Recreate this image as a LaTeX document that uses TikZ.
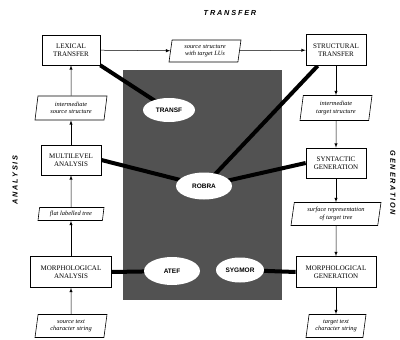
\documentclass[tikz,border=0pt]{standalone}
\usepackage{fontspec}
\setmainfont{Liberation Serif}
\newfontfamily\hvfont{Liberation Sans}
\usetikzlibrary{shapes.geometric}
\pgfdeclarelayer{block}
\pgfdeclarelayer{links}
\pgfsetlayers{block,links,main}
\tikzset{
  procbox/.style={draw, line width=0.7pt, fill=white, align=center, inner sep=1pt,
    font=\fontsize{7}{8}\selectfont},
  databox/.style={draw, line width=0.6pt, fill=white, align=center, inner sep=0.5pt,
    trapezium, trapezium left angle=77, trapezium right angle=103,
    trapezium stretches body=true,
    font=\itshape\fontsize{6.4}{7.4}\selectfont},
  tool/.style={ellipse, fill=white, draw=none, inner sep=0pt,
    font=\hvfont\bfseries\fontsize{6.5}{7}\selectfont},
  flow/.style={-latex, line width=0.5pt},
  link/.style={line width=4pt},
  side/.style={font=\hvfont\bfseries\itshape\fontsize{7.3}{8}\selectfont\addfontfeature{LetterSpace=25}}
}
\begin{document}
\begin{tikzpicture}[x=1pt,y=-1pt]
\useasboundingbox (0,0) rectangle (400,340);

% stages: analysis column
\node[procbox, minimum width=58pt, minimum height=30pt] (lex) at (71,50) {LEXICAL\\TRANSFER};
\node[databox, minimum width=72pt, minimum height=24pt] (isrc) at (71,108) {intermediate\\source structure};
\node[procbox, minimum width=60pt, minimum height=30pt] (multi) at (71,160) {MULTILEVEL\\ANALYSIS};
\node[databox, minimum width=66pt, minimum height=13pt] (flat) at (71,214) {flat labelled tree};
\node[procbox, minimum width=81pt, minimum height=31pt] (manal) at (71,272) {MORPHOLOGICAL\\ANALYSIS};
\node[databox, minimum width=72pt, minimum height=23pt] (stxt) at (71,326) {source text\\character string};
% transfer
\node[databox, minimum width=72pt, minimum height=22pt] (src) at (205,51) {source structure\\with target LUs};
% stages: generation column
\node[procbox, minimum width=60pt, minimum height=31pt] (str) at (336,50) {STRUCTURAL\\TRANSFER};
\node[databox, minimum width=72pt, minimum height=25pt] (itgt) at (336,108) {intermediate\\target structure};
\node[procbox, minimum width=60pt, minimum height=30pt] (synt) at (336,163) {SYNTACTIC\\GENERATION};
\node[databox, minimum width=90pt, minimum height=23pt] (surf) at (336,214) {surface representation\\of target tree};
\node[procbox, minimum width=80pt, minimum height=31pt] (mgen) at (336,272) {MORPHOLOGICAL\\GENERATION};
\node[databox, minimum width=60pt, minimum height=23pt] (ttxt) at (336,326) {target text\\character string};

% software tools
\node[tool, minimum width=52pt, minimum height=24pt] (transf) at (169,110) {TRANSF};
\node[tool, minimum width=56pt, minimum height=27pt] (robra) at (204,186) {ROBRA};
\node[tool, minimum width=56pt, minimum height=28pt] (atef) at (172,271) {ATEF};
\node[tool, minimum width=48pt, minimum height=25pt] (sygmor) at (240,270) {SYGMOR};

% page and dark block behind the tools
\begin{pgfonlayer}{block}
\fill[white] (0,0) rectangle (400,340);
\fill[black!68] (123,70) rectangle (282,300);
\end{pgfonlayer}

% links from stages to tools
\begin{pgfonlayer}{links}
\draw[link] (lex.south east) -- (transf.center);
\draw[link] ([xshift=12pt]str.south west) -- (robra.center);
\draw[link] (multi.east) -- (robra.center);
\draw[link] (synt.west) -- (robra.center);
\draw[link] (manal.east) -- (atef.center);
\draw[link] (sygmor.center) -- (mgen.west);
\end{pgfonlayer}

% data flow
\draw[flow] (stxt) -- (manal);
\draw[flow] (manal) -- (flat);
\draw[flow] (flat) -- (multi);
\draw[flow] (multi) -- (isrc);
\draw[flow] (isrc) -- (lex);
\draw[flow] (lex) -- (src);
\draw[flow] (src) -- (str);
\draw[flow] (str) -- (itgt);
\draw[flow] (itgt) -- (synt);
\draw[flow] (synt) -- (surf);
\draw[flow] (surf) -- (mgen);
\draw[flow] (mgen) -- (ttxt);

% phase labels
\node[side] (ttransfer) at (230,13) {TRANSFER};
\node[side, rotate=90] (tanalysis) at (15,180) {ANALYSIS};
\node[side, rotate=-90] (tgeneration) at (393,183) {GENERATION};
\end{tikzpicture}
\end{document}
